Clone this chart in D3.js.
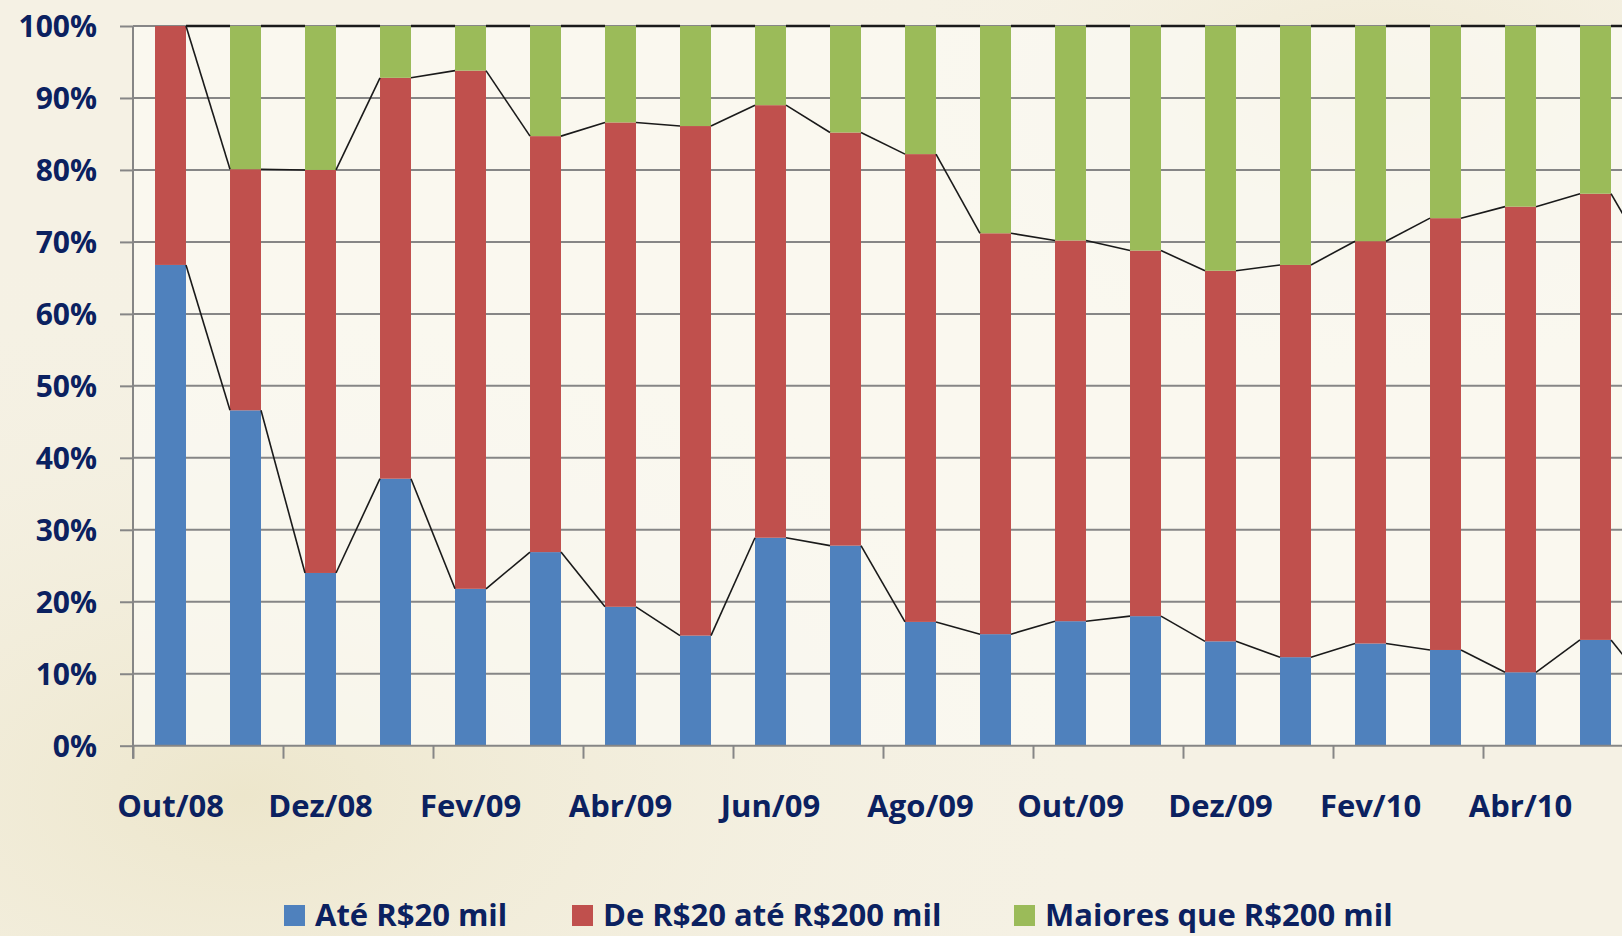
<!DOCTYPE html>
<html>
<head>
<meta charset="utf-8">
<script src="https://cdn.jsdelivr.net/npm/d3@7"></script>
<style>
  html, body { margin: 0; padding: 0; overflow: hidden; }
  body { background: #f6f3e8; }
  svg { display: block; font-family: "Open Sans", Lato, sans-serif; font-weight: 700; }
</style>
</head>
<body>
<svg></svg>
<script>
const months = ["Out/08", "Nov/08", "Dez/08", "Jan/09", "Fev/09", "Mar/09", "Abr/09", "Mai/09",
  "Jun/09", "Jul/09", "Ago/09", "Set/09", "Out/09", "Nov/09", "Dez/09", "Jan/10",
  "Fev/10", "Mar/10", "Abr/10", "Mai/10", "Jun/10"];

// shares in % per month
const ate20 = [66.8, 46.6, 24.0, 37.1, 21.8, 26.9, 19.3, 15.3, 28.9, 27.8, 17.2,
  15.5, 17.3, 18.0, 14.5, 12.3, 14.2, 13.3, 10.2, 14.7, 7.0];
const de20a200 = [33.2, 33.5, 56.0, 55.7, 72.0, 57.8, 67.3, 70.8, 60.1, 57.4, 65.0,
  55.7, 52.9, 50.8, 51.5, 54.5, 55.9, 60.0, 64.7, 62.0, 59.2];
const maiores200 = [0, 19.9, 20.0, 7.2, 6.2, 15.3, 13.4, 13.9, 11.0, 14.8, 17.8,
  28.8, 29.8, 31.2, 34.0, 33.2, 29.9, 26.7, 25.1, 23.3, 33.8];

const seriesNames = ["Até R$20 mil", "De R$20 até R$200 mil", "Maiores que R$200 mil"];
const colors = ["#4f81bd", "#c0504d", "#9bbb59"];
const yTicks = [0, 0.1, 0.2, 0.3, 0.4, 0.5, 0.6, 0.7, 0.8, 0.9, 1];
// labels shown under the axis (Jun/10 falls outside the picture)
const labelMonths = ["Out/08", "Dez/08", "Fev/09", "Abr/09", "Jun/09", "Ago/09",
  "Out/09", "Dez/09", "Fev/10", "Abr/10"];

const width = 1622, height = 936;
const margin = { left: 133, top: 26, bottom: 190 };
const textColor = "#0b2160";
const gridColor = "#868686";
const fontFamily = "'Open Sans', Lato, sans-serif";

const svg = d3.select("svg").attr("width", width).attr("height", height);

// soft paper background
const defs = svg.append("defs");
const g1 = defs.append("radialGradient").attr("id", "bg1").attr("cx", "0.15").attr("cy", "0.85").attr("r", "0.6");
g1.append("stop").attr("offset", "0").attr("stop-color", "#ece5c9").attr("stop-opacity", 0.9);
g1.append("stop").attr("offset", "1").attr("stop-color", "#f6f3e8").attr("stop-opacity", 0);
const g2 = defs.append("radialGradient").attr("id", "bg2").attr("cx", "0.85").attr("cy", "0.1").attr("r", "0.35");
g2.append("stop").attr("offset", "0").attr("stop-color", "#ede6cc").attr("stop-opacity", 0.8);
g2.append("stop").attr("offset", "1").attr("stop-color", "#f6f3e8").attr("stop-opacity", 0);
svg.append("rect").attr("width", width).attr("height", height).attr("fill", "#f5f1e4");
svg.append("rect").attr("width", width).attr("height", height).attr("fill", "url(#bg1)");
svg.append("rect").attr("width", width).attr("height", height).attr("fill", "url(#bg2)");

const step = 75;
const x = d3.scaleBand()
  .domain(months)
  .range([margin.left, margin.left + step * months.length])
  .paddingInner(0.587)
  .paddingOuter(0.2935);
const xEdge = d3.scaleLinear().domain([0, months.length]).range(x.range());

const y = d3.scaleLinear().domain([0, 1]).range([745.7, margin.top]);

// plot area
svg.append("rect")
  .attr("x", margin.left).attr("y", margin.top)
  .attr("width", width - margin.left).attr("height", y(0) - margin.top)
  .attr("fill", "#fbf9f3").attr("opacity", 0.75);

// gridlines
svg.append("g")
  .selectAll("line")
  .data(yTicks.slice(1))
  .join("line")
  .attr("x1", margin.left).attr("x2", width)
  .attr("y1", d => y(d)).attr("y2", d => y(d))
  .attr("stroke", gridColor).attr("stroke-width", 2);

// stacked data
const table = months.map((m, i) => ({
  month: m,
  [seriesNames[0]]: ate20[i],
  [seriesNames[1]]: de20a200[i],
  [seriesNames[2]]: maiores200[i]
}));
const stacked = d3.stack().keys(seriesNames).offset(d3.stackOffsetExpand)(table);

svg.append("g")
  .selectAll("g")
  .data(stacked)
  .join("g")
  .attr("fill", (d, i) => colors[i])
  .selectAll("rect")
  .data(d => d)
  .join("rect")
  .attr("x", d => x(d.data.month))
  .attr("width", x.bandwidth())
  .attr("y", d => y(d[1]))
  .attr("height", d => y(d[0]) - y(d[1]));

// series lines joining the tops of the segments
const seg = d3.line();
stacked.forEach(layer => {
  for (let i = 0; i < layer.length - 1; i++) {
    const a = layer[i], b = layer[i + 1];
    svg.append("path")
      .attr("fill", "none")
      .attr("stroke", "#1a1a1a")
      .attr("stroke-width", layer.index === 2 ? 2.5 : 1.6)
      .attr("d", seg([
        [x(a.data.month) + x.bandwidth(), y(a[1])],
        [x(b.data.month), y(b[1])]
      ]));
  }
});

// y axis
const yAxis = svg.append("g")
  .attr("transform", `translate(${margin.left},0)`)
  .call(d3.axisLeft(y).tickValues(yTicks).tickFormat(d3.format(".0%")).tickSize(13).tickPadding(23))
  .attr("font-family", fontFamily)
  .attr("font-weight", 700);
yAxis.select(".domain").remove();
yAxis.selectAll("line").attr("stroke", gridColor).attr("stroke-width", 2);
yAxis.selectAll("text").attr("fill", textColor).style("font-size", "30px").attr("dy", "0.36em");
svg.append("line")
  .attr("x1", margin.left).attr("x2", margin.left)
  .attr("y1", margin.top).attr("y2", y(0) + 13)
  .attr("stroke", gridColor).attr("stroke-width", 2);

// x axis: tick marks every two months, labels under the bars
const xTicks = svg.append("g")
  .attr("transform", `translate(0,${y(0)})`)
  .call(d3.axisBottom(xEdge).tickValues(d3.range(0, months.length + 1, 2)).tickFormat("").tickSize(13));
xTicks.select(".domain").remove();
xTicks.selectAll("line").attr("stroke", gridColor).attr("stroke-width", 2);
svg.append("line")
  .attr("x1", margin.left).attr("x2", width)
  .attr("y1", y(0)).attr("y2", y(0))
  .attr("stroke", gridColor).attr("stroke-width", 2);

const xAxis = svg.append("g")
  .attr("transform", `translate(0,${y(0)})`)
  .call(d3.axisBottom(x).tickValues(labelMonths).tickSize(0))
  .attr("font-family", fontFamily)
  .attr("font-weight", 700);
xAxis.select(".domain").remove();
xAxis.selectAll("text")
  .attr("fill", textColor)
  .style("font-size", "31px")
  .attr("y", 71).attr("dy", 0);

// legend
const legendX = [284, 572, 1014];
const legend = svg.append("g")
  .selectAll("g")
  .data(seriesNames)
  .join("g")
  .attr("transform", (d, i) => `translate(${legendX[i]},0)`);
legend.append("rect")
  .attr("y", 905).attr("width", 21).attr("height", 21)
  .attr("fill", (d, i) => colors[i]);
legend.append("text")
  .attr("x", 31).attr("y", 926)
  .attr("fill", textColor)
  .style("font-size", "31px")
  .text(d => d);
</script>
</body>
</html>
